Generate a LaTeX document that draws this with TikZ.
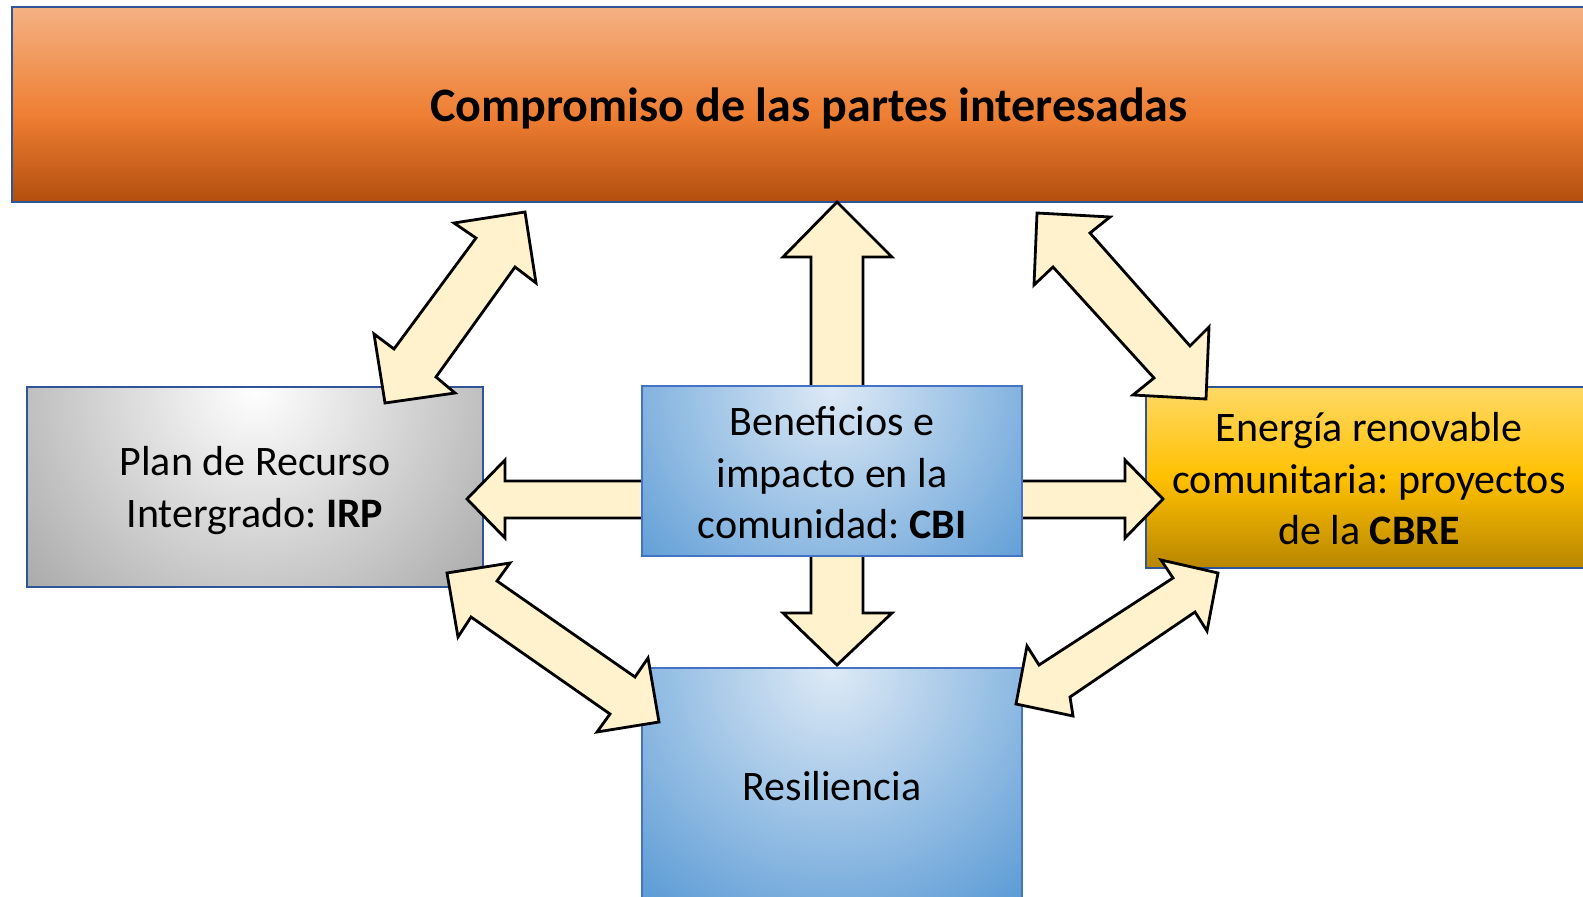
\documentclass[tikz,border=0pt]{standalone}
\usepackage{fontspec}
\setmainfont{Carlito}
\frenchspacing
\usetikzlibrary{calc}
\definecolor{bordA}{RGB}{47,85,151}
\definecolor{bordB}{RGB}{68,114,196}
\definecolor{orTop}{RGB}{244,177,131}
\definecolor{orMid}{RGB}{238,126,50}
\definecolor{orBot}{RGB}{178,78,14}
\definecolor{yeTop}{RGB}{255,217,102}
\definecolor{yeMid}{RGB}{255,192,0}
\definecolor{yeBot}{RGB}{184,134,0}
\definecolor{grOut}{RGB}{160,160,160}
\definecolor{blIn}{RGB}{222,234,246}
\definecolor{blOut}{RGB}{91,155,213}
\definecolor{arrFill}{RGB}{255,242,204}
\pgfdeclareverticalshading{orangeshade}{100bp}{color(0bp)=(orBot); color(25bp)=(orBot); color(47bp)=(orMid); color(75bp)=(orTop); color(100bp)=(orTop)}
\pgfdeclareverticalshading{yellowshade}{100bp}{color(0bp)=(yeBot); color(25bp)=(yeBot); color(50bp)=(yeMid); color(75bp)=(yeTop); color(100bp)=(yeTop)}
\tikzset{
  boxtext/.style={align=center, font=\fontsize{21}{25.75}\selectfont, inner sep=0pt, text=black},
  radbox/.style n args={3}{path picture={
      \fill[#2] (path picture bounding box.south west) rectangle (path picture bounding box.north east);
      \shade[inner color=#1, outer color=#2] (path picture bounding box.north) circle (#3);}},
  blockarrow/.style={fill=arrFill, draw=black, line width=1.4pt, line join=miter},
}
\begin{document}
\begin{tikzpicture}[x=0.5pt, y=-0.5pt]
\useasboundingbox (0,0) rectangle (1583,897);
\clip (0,0) rectangle (1583,897);
% top box
\node[draw=bordA, line width=1pt, shading=orangeshade,
      minimum width=797pt, minimum height=97.5pt] (top) at (809,104.5) {};
\node[boxtext, font=\fontsize{24}{29}\selectfont\bfseries] (toptext) at (809,108.5)
  {Compromiso de las partes interesadas};
% IRP box
\node[draw=bordA, line width=1pt, radbox={white}{grOut}{170pt},
      minimum width=228pt, minimum height=100pt] (irp) at (255,487) {};
\node[boxtext] (irptext) at (255,490.5) {Plan de Recurso\\Intergrado: \textbf{IRP}};
% CBRE box
\node[draw=bordA, line width=1pt, shading=yellowshade,
      minimum width=223pt, minimum height=90.5pt] (cbre) at (1369,477.5) {};
\node[boxtext] (cbretext) at (1369,479) {Energía renovable\\comunitaria: proyectos\\de la \textbf{CBRE}};
% Resiliencia box
\node[draw=bordB, line width=1pt, radbox={blIn}{blOut}{150pt},
      minimum width=190pt, minimum height=118pt] (res) at (832,786) {};
\node[boxtext] (restext) at (832,786) {Resiliencia};
% block arrows
\draw[blockarrow] (525,212) -- (536,283) -- (515,267) -- (436,377) -- (455,393) -- (385,403)
  -- (374,334) -- (394,349) -- (476,238) -- (454,223) -- cycle;
\draw[blockarrow] (1037,213) -- (1110,217) -- (1090,233) -- (1190,346) -- (1209,327) -- (1206,399)
  -- (1133,395) -- (1154,378) -- (1053,267) -- (1034,285) -- cycle;
\draw[blockarrow] (447,573) -- (510,563) -- (497,581) -- (635,677) -- (648,658) -- (659,722)
  -- (597,732) -- (610,714) -- (471,617) -- (458,637) -- cycle;
\draw[blockarrow] (1218,573) -- (1207,631) -- (1195,612) -- (1070,697) -- (1073,716) -- (1016,704)
  -- (1027,646) -- (1039,665) -- (1173,578) -- (1161,560) -- cycle;
\draw[blockarrow] (837,202) -- (892,257) -- (863,257) -- (863,392) -- (811,392) -- (811,257) -- (783,257) -- cycle;
\draw[blockarrow] (811,550) -- (863,550) -- (863,613) -- (892,613) -- (837,665) -- (783,613) -- (811,613) -- cycle;
\draw[blockarrow] (467,499) -- (505,460) -- (505,481) -- (648,481) -- (648,518) -- (505,518) -- (505,538) -- cycle;
\draw[blockarrow] (1016,481) -- (1125,481) -- (1125,460) -- (1163,499) -- (1125,538) -- (1125,518) -- (1016,518) -- cycle;
% CBI box
\node[draw=bordB, line width=1pt, radbox={blIn}{blOut}{135pt},
      minimum width=190pt, minimum height=85pt] (cbi) at (832,471) {};
\node[boxtext] (cbitext) at (832,473) {Beneficios e\\impacto en la\\comunidad: \textbf{CBI}};
\end{tikzpicture}
\end{document}
